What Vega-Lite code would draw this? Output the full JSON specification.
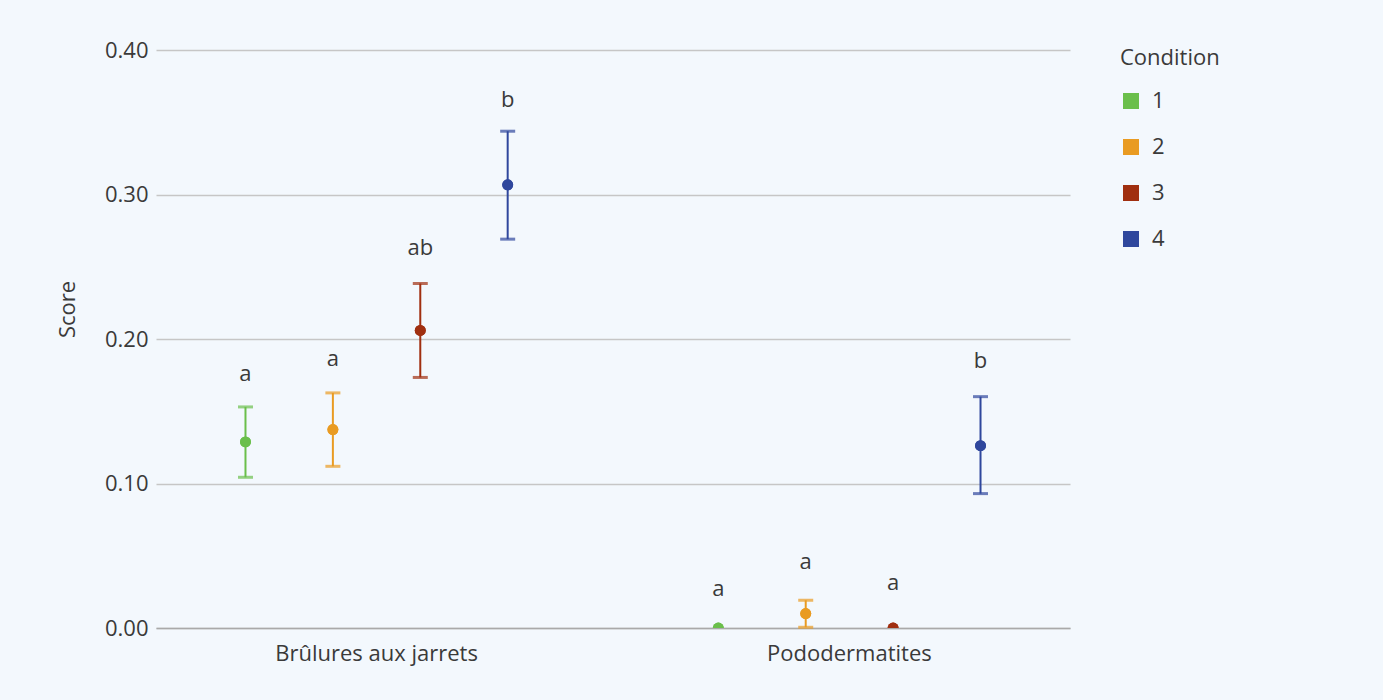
{
  "$schema": "https://vega.github.io/schema/vega-lite/v6.json",
  "width": 914,
  "height": 578,
  "autosize": {"type": "none"},
  "padding": {"left": 156, "top": 50, "right": 313, "bottom": 72},
  "background": "#f3f8fd",
  "config": {
    "font": "Open Sans",
    "view": {"stroke": null},
    "axis": {
      "labelFont": "Open Sans",
      "titleFont": "Open Sans",
      "labelFontSize": 22,
      "titleFontSize": 22,
      "labelColor": "#3a3a3a",
      "titleColor": "#3a3a3a",
      "titleFontWeight": "normal"
    },
    "legend": {
      "labelFont": "Open Sans",
      "titleFont": "Open Sans",
      "labelFontSize": 22,
      "titleFontSize": 22,
      "labelColor": "#3a3a3a",
      "titleColor": "#3a3a3a",
      "titleFontWeight": "normal"
    }
  },
  "data": {
    "values": [
      {"lesion": "Brûlures aux jarrets", "condition": "1", "score": 0.1288, "bas": 0.1043, "haut": 0.1530, "lettre": "a", "y_lettre": 0.1707},
      {"lesion": "Brûlures aux jarrets", "condition": "2", "score": 0.1373, "bas": 0.1119, "haut": 0.1627, "lettre": "a", "y_lettre": 0.1815},
      {"lesion": "Brûlures aux jarrets", "condition": "3", "score": 0.2059, "bas": 0.1734, "haut": 0.2384, "lettre": "ab", "y_lettre": 0.2583},
      {"lesion": "Brûlures aux jarrets", "condition": "4", "score": 0.3067, "bas": 0.2691, "haut": 0.3438, "lettre": "b", "y_lettre": 0.3607},
      {"lesion": "Pododermatites", "condition": "1", "score": 0, "bas": null, "haut": null, "lettre": "a", "y_lettre": 0.0220},
      {"lesion": "Pododermatites", "condition": "2", "score": 0.0100, "bas": 0.0005, "haut": 0.0192, "lettre": "a", "y_lettre": 0.0405},
      {"lesion": "Pododermatites", "condition": "3", "score": 0, "bas": null, "haut": null, "lettre": "a", "y_lettre": 0.0266},
      {"lesion": "Pododermatites", "condition": "4", "score": 0.1262, "bas": 0.0930, "haut": 0.1601, "lettre": "b", "y_lettre": 0.1799}
    ]
  },
  "encoding": {
    "x": {
      "field": "lesion",
      "type": "nominal",
      "sort": null,
      "scale": {"paddingInner": 0.1, "paddingOuter": 0.0165},
      "axis": {
        "title": null,
        "labelAngle": 0,
        "labelLimit": 0,
        "ticks": false,
        "domain": true,
        "domainColor": "#a9a9a9",
        "domainWidth": 1.5,
        "labelPadding": 15
      }
    },
    "xOffset": {
      "field": "condition",
      "type": "nominal",
      "scale": {"paddingInner": 0, "paddingOuter": 0.4346}
    }
  },
  "layer": [
    {
      "mark": {"type": "point", "filled": true, "size": 120, "opacity": 1, "clip": true},
      "encoding": {
        "y": {
          "field": "score",
          "type": "quantitative",
          "title": "Score",
          "scale": {"domain": [0, 0.4]},
          "axis": {
            "values": [0, 0.1, 0.2, 0.3, 0.4],
            "format": ".2f",
            "ticks": false,
            "domain": false,
            "gridColor": "#c6c6c6",
            "gridWidth": 1.5,
            "labelPadding": 8,
            "titleX": -77,
            "titleY": 259
          }
        },
        "color": {
          "field": "condition",
          "type": "nominal",
          "title": "Condition",
          "scale": {
            "domain": ["1", "2", "3", "4"],
            "range": ["#6abf4b", "#e99b22", "#a02f10", "#2f479d"]
          },
          "legend": {
            "orient": "none",
            "legendX": 964,
            "legendY": -2,
            "symbolType": "square",
            "symbolSize": 256,
            "symbolStrokeWidth": 0,
            "padding": 0,
            "titlePadding": 20,
            "rowPadding": 24,
            "labelOffset": 10
          }
        }
      }
    },
    {
      "transform": [{"filter": "isValid(datum.haut)"}],
      "mark": {"type": "rule", "strokeWidth": 2},
      "encoding": {
        "y": {"field": "bas", "type": "quantitative"},
        "y2": {"field": "haut"},
        "color": {"field": "condition", "type": "nominal"}
      }
    },
    {
      "transform": [{"filter": "isValid(datum.haut)"}],
      "mark": {"type": "tick", "size": 15, "thickness": 3},
      "encoding": {
        "y": {"field": "bas", "type": "quantitative"},
        "color": {"field": "condition", "type": "nominal"}
      }
    },
    {
      "transform": [{"filter": "isValid(datum.haut)"}],
      "mark": {"type": "tick", "size": 15, "thickness": 3},
      "encoding": {
        "y": {"field": "haut", "type": "quantitative"},
        "color": {"field": "condition", "type": "nominal"}
      }
    },
    {
      "mark": {"type": "point", "filled": true, "size": 120, "opacity": 1, "clip": true},
      "encoding": {
        "y": {"field": "score", "type": "quantitative"},
        "color": {"field": "condition", "type": "nominal"}
      }
    },
    {
      "mark": {"type": "text", "baseline": "alphabetic", "fontSize": 22, "color": "#3a3a3a"},
      "encoding": {
        "y": {"field": "y_lettre", "type": "quantitative"},
        "text": {"field": "lettre"}
      }
    }
  ]
}
